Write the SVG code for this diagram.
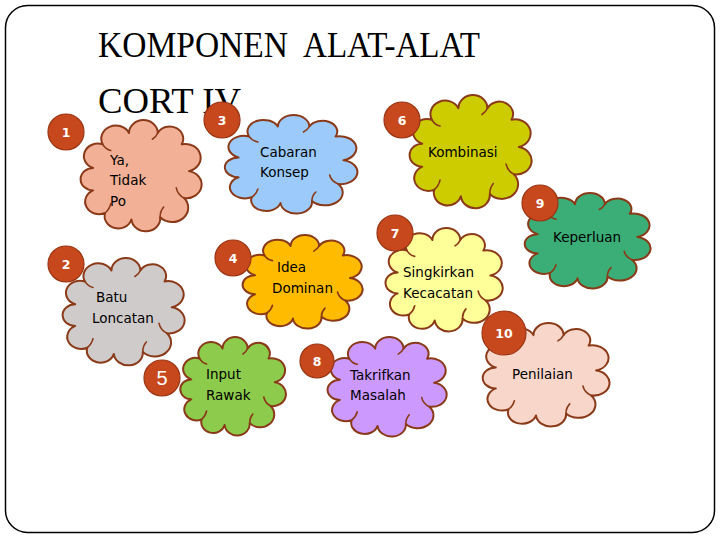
<svg xmlns="http://www.w3.org/2000/svg" xmlns:xlink="http://www.w3.org/1999/xlink" width="720" height="540" viewBox="0 0 720 540">
<style>
.cl{stroke:#8A3A18;stroke-width:2;vector-effect:non-scaling-stroke;stroke-linejoin:round}
.cli{fill:none;stroke:#8A3A18;stroke-width:1.6;vector-effect:non-scaling-stroke;stroke-linecap:round}
.num{fill:#C8481D;stroke:#9A3513;stroke-width:1.2}
.nt{font-family:"DejaVu Sans",sans-serif;font-weight:bold;font-size:12.5px;fill:#fff;text-anchor:middle}
.lb{font-family:"DejaVu Sans",sans-serif;font-size:13.5px;fill:#000}
.ttl{font-family:"Liberation Serif",serif;font-size:36px;fill:#000}
</style>
<defs>
<symbol id="cloud" viewBox="0 0 100 100" preserveAspectRatio="none" overflow="visible">
<path class="cl" d="M12 42.4 A1 1 0 0 1 19.6 21.5 A1 1 0 0 1 40.5 11.5 A1 1 0 0 1 63.3 11.5 A1 1 0 0 1 82.3 21.5 A1 1 0 0 1 88 45.25 A1 1 0 0 1 84.2 69 A1 1 0 0 1 65.2 86.1 A1 1 0 0 1 42.4 88 A1 1 0 0 1 21.5 82.3 A1 1 0 0 1 12 62.3 A1 1 0 0 1 12 42.4 Z"/>
<path class="cli" d="M84.2 69 Q79 66 78 60 M65.2 86.1 Q65 81 68 77 M21.5 82.3 Q25 79 26 74 M19.6 21.5 Q22 26 26 27 M63.3 11.5 Q62 15 59 17"/>
</symbol>
</defs>
<rect x="5.5" y="5.5" width="709" height="527" rx="22" fill="#fff" stroke="#000" stroke-width="1.5"/>
<g id="title">
<text class="ttl" x="98" y="57" textLength="190" lengthAdjust="spacingAndGlyphs">KOMPONEN</text>
<text class="ttl" x="303" y="57" textLength="177" lengthAdjust="spacingAndGlyphs">ALAT-ALAT</text>
<text class="ttl" x="98" y="113" textLength="143" lengthAdjust="spacingAndGlyphs">CORT IV</text>
</g>
<g id="connectors"/>
<g id="node1">
<use xlink:href="#cloud" x="78" y="120" width="126" height="113" fill="#F2B096"/>
<text class="lb" x="110" y="165">Ya,</text>
<text class="lb" x="110" y="185">Tidak</text>
<text class="lb" x="110" y="206">Po</text>
<circle class="num" cx="66" cy="132" r="18"/>
<text class="nt" x="66" y="137">1</text>
</g>
<g id="node3">
<use xlink:href="#cloud" x="222" y="115" width="138" height="100" fill="#9CCBFB"/>
<text class="lb" x="260" y="157" fill="#0d0d3a">Cabaran</text>
<text class="lb" x="260" y="177" fill="#0d0d3a">Konsep</text>
<circle class="num" cx="222" cy="120" r="18"/>
<text class="nt" x="222" y="125">3</text>
</g>
<g id="node6">
<use xlink:href="#cloud" x="407" y="95" width="127" height="115" fill="#CCCC00"/>
<text class="lb" x="428" y="157">Kombinasi</text>
<circle class="num" cx="402" cy="120" r="18"/>
<text class="nt" x="402" y="125">6</text>
</g>
<g id="node9">
<use xlink:href="#cloud" x="522" y="193" width="131" height="97" fill="#3BAE77"/>
<text class="lb" x="553" y="242">Keperluan</text>
<circle class="num" cx="540" cy="203" r="18"/>
<text class="nt" x="540" y="208">9</text>
</g>
<g id="node7">
<use xlink:href="#cloud" x="383" y="228" width="122" height="105" fill="#FFFF99"/>
<text class="lb" x="403" y="277">Singkirkan</text>
<text class="lb" x="403" y="298">Kecacatan</text>
<circle class="num" cx="395" cy="233" r="18"/>
<text class="nt" x="395" y="238">7</text>
</g>
<g id="node2">
<use xlink:href="#cloud" x="60" y="258" width="127" height="109" fill="#CFCBCB"/>
<text class="lb" x="96" y="302">Batu</text>
<text class="lb" x="92" y="323">Loncatan</text>
<circle class="num" cx="66" cy="264" r="18"/>
<text class="nt" x="66" y="269">2</text>
</g>
<g id="node4">
<use xlink:href="#cloud" x="240" y="235" width="125" height="95" fill="#FFBB00"/>
<text class="lb" x="277" y="272">Idea</text>
<text class="lb" x="272" y="293">Dominan</text>
<circle class="num" cx="233" cy="258" r="18"/>
<text class="nt" x="233" y="263">4</text>
</g>
<g id="node5">
<use xlink:href="#cloud" x="178" y="337" width="110" height="100" fill="#8CCB4C"/>
<text class="lb" x="206" y="379">Input</text>
<text class="lb" x="206" y="400">Rawak</text>
<circle class="num" cx="162" cy="378" r="18"/>
<text x="162" y="385" font-family="Liberation Sans, sans-serif" font-size="20" fill="#fff" text-anchor="middle">5</text>
</g>
<g id="node8">
<use xlink:href="#cloud" x="325" y="337" width="124" height="101" fill="#CC99FF"/>
<text class="lb" x="350" y="380" fill="#0d0d3a">Takrifkan</text>
<text class="lb" x="350" y="400" fill="#0d0d3a">Masalah</text>
<circle class="num" cx="317" cy="361" r="17"/>
<text class="nt" x="317" y="366">8</text>
</g>
<g id="node10">
<use xlink:href="#cloud" x="480" y="323" width="132" height="105" fill="#F8D7CA"/>
<text class="lb" x="512" y="379">Penilaian</text>
<circle class="num" cx="504" cy="333" r="22"/>
<text class="nt" x="504" y="338">10</text>
</g>
</svg>
